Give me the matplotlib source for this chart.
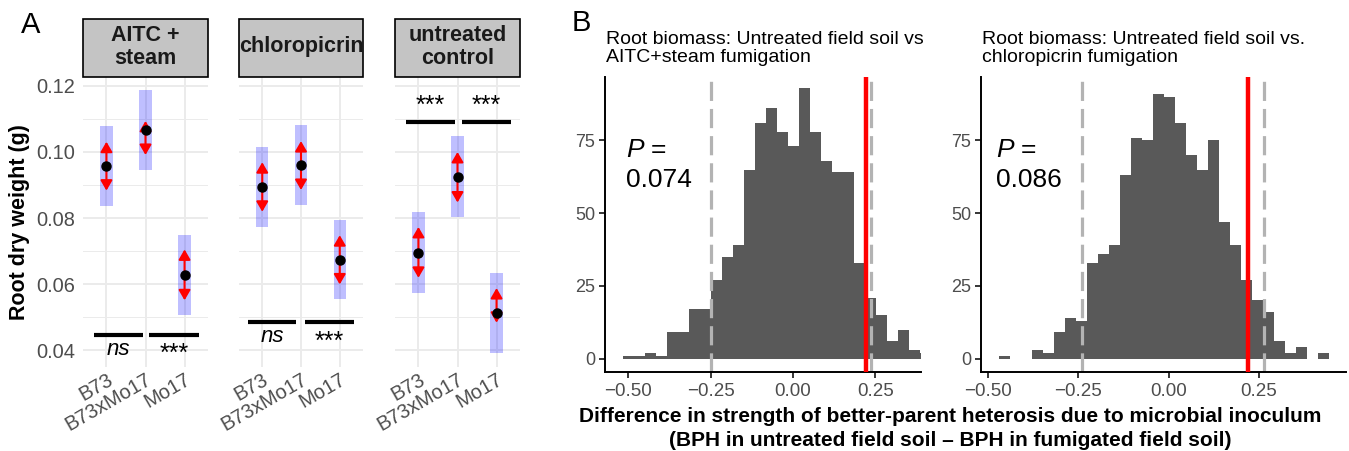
import matplotlib
matplotlib.use('Agg')
import matplotlib.pyplot as plt
from matplotlib.patches import Rectangle
from matplotlib.transforms import ScaledTranslation
import numpy as np

plt.rcParams['font.family'] = ['Liberation Sans', 'DejaVu Sans']
plt.rcParams['mathtext.fontset'] = 'custom'
plt.rcParams['mathtext.rm'] = 'Liberation Sans'
plt.rcParams['mathtext.it'] = 'Liberation Sans:italic'

# ---- panel A data: emmeans per treatment ----
genotypes = ['B73', 'B73xMo17', 'Mo17']
treatments = ['AITC +\nsteam', 'chloropicrin', 'untreated\ncontrol']
means = [[0.0959, 0.1066, 0.0627],
         [0.0894, 0.0960, 0.0674],
         [0.0695, 0.0924, 0.0511]]
ci_low = [[0.0837, 0.0945, 0.0506],
          [0.0774, 0.0840, 0.0554],
          [0.0574, 0.0802, 0.0390]]
ci_high = [[0.1080, 0.1187, 0.0750],
           [0.1015, 0.1081, 0.0794],
           [0.0818, 0.1047, 0.0633]]
arrow_low = [[0.0883, 0.0991, 0.0551],
             [0.0819, 0.0885, 0.0599],
             [0.0619, 0.0847, 0.0483]]
arrow_high = [[0.1031, 0.1094, 0.0705],
              [0.0969, 0.1033, 0.0748],
              [0.0773, 0.1000, 0.0588]]
# significance brackets: (xmin, xmax, y, label)
sig_bars = [[(0.67, 1.93, 0.0446, 'ns'), (2.09, 3.37, 0.0446, '***')],
            [(0.62, 1.88, 0.0484, 'ns'), (2.10, 3.36, 0.0484, '***')],
            [(0.69, 1.93, 0.1091, '***'), (2.11, 3.36, 0.1091, '***')]]

# ---- panel B data: permutation histograms ----
perm_titles = ['Root biomass: Untreated field soil vs\nAITC+steam fumigation',
               'Root biomass: Untreated field soil vs.\nchloropicrin fumigation']
bin_start = [-0.5147, -0.4711]
bin_width = [0.0333, 0.0305]
counts_aitc = [1, 1, 2, 1, 9, 9, 17, 17, 27, 35, 39, 65, 81, 86, 78, 73, 93, 78,
               68, 64, 64, 33, 21, 15, 6, 10, 3, 2]
counts_chloro = [1, 0, 0, 3, 2, 9, 14, 13, 33, 36, 39, 63, 76, 75, 91, 90, 81, 70,
                 65, 75, 47, 39, 27, 20, 16, 6, 2, 4, 0, 2]
observed = [0.220, 0.219]
ci_lines = [(-0.248, 0.235), (-0.239, 0.266)]
p_values = ['0.074', '0.086']
x_limits = [(-0.570, 0.388), (-0.520, 0.492)]

W, H = 1349, 451
fig = plt.figure(figsize=(W / 100, H / 100), dpi=100)


def px_axes(x0, x1, y0, y1):
    return fig.add_axes([x0 / W, 1 - y1 / H, (x1 - x0) / W, (y1 - y0) / H])


tick_gray = '#4d4d4d'
grid_col = '#ebebeb'

a_pos = [(83, 208), (239, 363), (395, 520)]
for i, (x0, x1) in enumerate(a_pos):
    ax = px_axes(x0, x1, 77, 367)
    ax.set_xlim(0.4, 3.6)
    ax.set_ylim(0.0349, 0.1227)
    for s in ax.spines.values():
        s.set_visible(False)
    for y in np.arange(0.05, 0.12, 0.02):
        ax.axhline(y, color=grid_col, lw=0.7, zorder=0)
    for y in np.arange(0.04, 0.121, 0.02):
        ax.axhline(y, color=grid_col, lw=1.4, zorder=0)
    for x in range(1, 4):
        ax.axvline(x, color=grid_col, lw=1.4, zorder=0)
    xs = np.arange(1, 4)
    for j in range(3):
        ax.add_patch(Rectangle((xs[j] - 0.16, ci_low[i][j]), 0.32,
                               ci_high[i][j] - ci_low[i][j],
                               facecolor=(0.1, 0.1, 1.0, 0.28), edgecolor='none', zorder=2))
        for tip in (arrow_low[i][j], arrow_high[i][j]):
            ax.annotate('', xy=(xs[j], tip), xytext=(xs[j], means[i][j]),
                        arrowprops=dict(arrowstyle='-|>,head_length=0.55,head_width=0.32',
                                        color='red', lw=1.5, shrinkA=0, shrinkB=0,
                                        mutation_scale=11), zorder=3)
    ax.plot(xs, means[i], 'o', color='black', ms=6.5, zorder=4)
    for (xa, xb, y, lab) in sig_bars[i]:
        ax.plot([xa, xb], [y, y], color='black', lw=3, solid_capstyle='butt', zorder=3)
        if y > 0.08:
            ax.text((xa + xb) / 2, y + 0.0012, lab, ha='center', va='bottom', fontsize=18)
        elif lab == 'ns':
            ax.text((xa + xb) / 2, y - 0.0012, lab, ha='center', va='top', fontsize=16,
                    style='italic')
        else:
            ax.text((xa + xb) / 2, y - 0.0022, lab, ha='center', va='top', fontsize=18)
    ax.set_xticks(xs)
    ax.set_xticklabels(genotypes, rotation=30, ha='right', va='top',
                       rotation_mode='anchor', fontsize=14.5, color=tick_gray)
    off = ScaledTranslation(10 / 100, -1 / 100, fig.dpi_scale_trans)
    for lab in ax.get_xticklabels():
        lab.set_transform(lab.get_transform() + off)
    ax.tick_params(axis='x', length=0, pad=2)
    ax.tick_params(axis='y', length=0, pad=5.5)
    ax.set_yticks([0.04, 0.06, 0.08, 0.10, 0.12])
    if i == 0:
        ax.set_yticklabels(['0.04', '0.06', '0.08', '0.10', '0.12'], fontsize=14.4,
                           color=tick_gray)
    else:
        ax.set_yticklabels([])
    # facet strip
    ax.add_patch(Rectangle((0, 1), 1, 58 / 290, transform=ax.transAxes, clip_on=False,
                           facecolor='#c4c4c4', edgecolor='black', lw=1.2))
    ax.text(0.5, 1 + 30 / 290, treatments[i], transform=ax.transAxes, ha='center',
            va='center', fontsize=15.5, fontweight='bold', color='#1a1a1a',
            linespacing=1.1)

fig.text(20 / W, 1 - 222 / H, 'Root dry weight (g)', rotation=90, ha='center',
         va='center', fontsize=15.5, fontweight='bold')

b_pos = [(605, 921), (981, 1346)]
all_counts = [counts_aitc, counts_chloro]
for k, (x0, x1) in enumerate(b_pos):
    ax = px_axes(x0, x1, 77, 372)
    counts = np.array(all_counts[k])
    edges = bin_start[k] + bin_width[k] * np.arange(len(counts) + 1)
    ax.bar(edges[:-1], counts, width=bin_width[k], align='edge', color='#595959',
           edgecolor='none', zorder=1)
    for v in ci_lines[k]:
        ax.axvline(v, color='#b3b3b3', lw=2.3, linestyle=(0, (6, 2.5)), zorder=2)
    ax.axvline(observed[k], color='red', lw=3.2, zorder=3)
    ax.set_xlim(*x_limits[k])
    ax.set_ylim(-4.6, 96.8)
    ax.spines['top'].set_visible(False)
    ax.spines['right'].set_visible(False)
    ax.spines['left'].set_linewidth(1.4)
    ax.spines['bottom'].set_linewidth(1.4)
    ax.set_xticks([-0.50, -0.25, 0.00, 0.25])
    ax.set_xticklabels(['\u22120.50', '\u22120.25', '0.00', '0.25'], fontsize=13.5,
                       color=tick_gray)
    ax.set_yticks([0, 25, 50, 75])
    ax.set_yticklabels(['0', '25', '50', '75'], fontsize=13, color=tick_gray)
    ax.tick_params(axis='x', length=4, width=1.1, pad=4)
    ax.tick_params(axis='y', length=4, width=1.1, pad=3)
    ax.text(0.0, 1.0, perm_titles[k], transform=ax.transAxes + ScaledTranslation(
        1 / 100, 11 / 100, fig.dpi_scale_trans), ha='left', va='bottom', fontsize=14,
        linespacing=1.05)
    px_off = 21 if k == 0 else 15
    ax.text(px_off / (x1 - x0), 0.792, '$\\mathit{P}$ =\n' + p_values[k],
            transform=ax.transAxes, ha='left', va='top', fontsize=19, linespacing=1.3)

fig.text(950 / W, 1 - 417 / H, 'Difference in strength of better-parent heterosis due to microbial inoculum',
         ha='center', va='center', fontsize=15, fontweight='bold')
fig.text(950 / W, 1 - 440 / H, '(BPH in untreated field soil \u2013 BPH in fumigated field soil)',
         ha='center', va='center', fontsize=15, fontweight='bold')

fig.text(31 / W, 1 - 25 / H, 'A', ha='center', va='center', fontsize=21)
fig.text(581 / W, 1 - 23 / H, 'B', ha='center', va='center', fontsize=21)

fig.savefig('out.png', dpi=100)
